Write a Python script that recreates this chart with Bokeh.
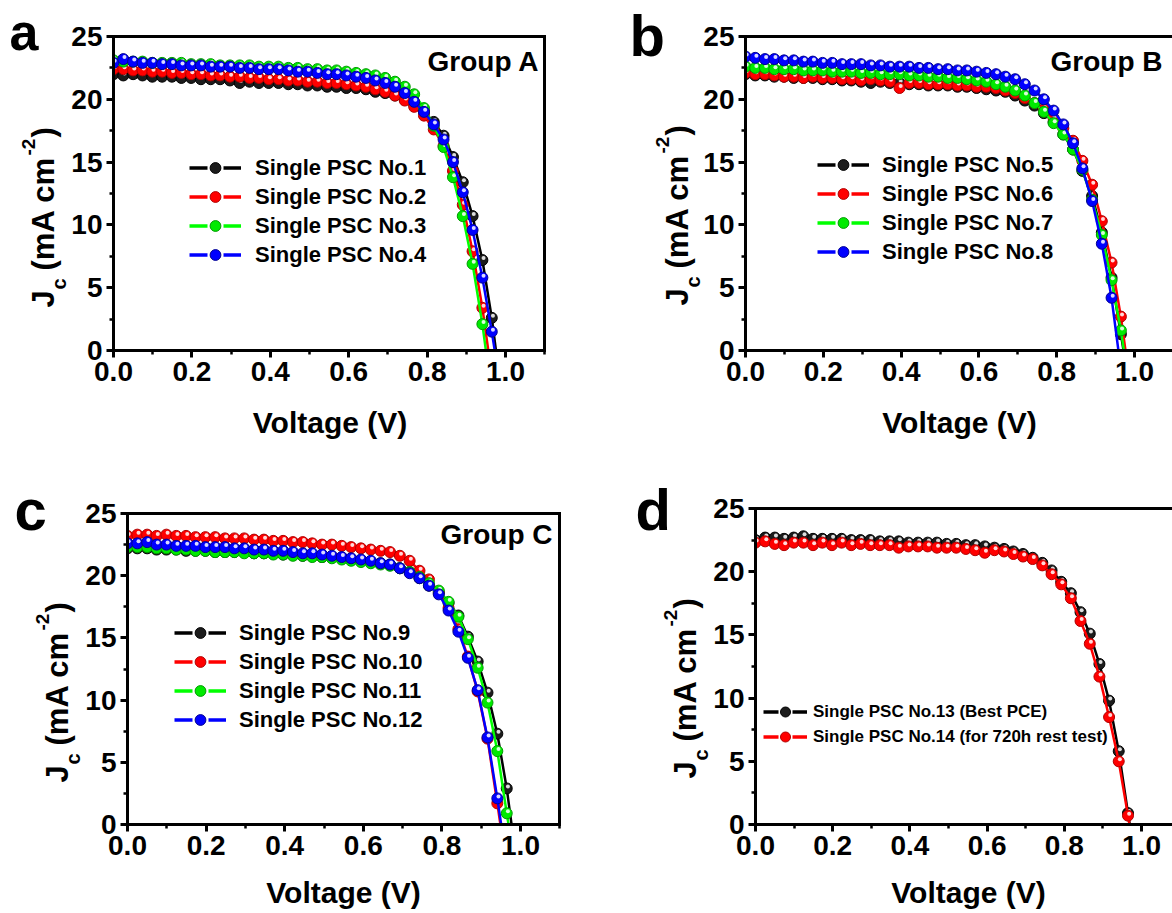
from bokeh.plotting import figure
from bokeh.models import (Label, Legend, LegendItem, LinearAxis, SingleIntervalTicker,
                          PrintfTickFormatter, Range1d, ColumnDataSource, FixedTicker,
                          BoxAnnotation, Grid)
from bokeh.layouts import row, column
from bokeh.transform import dodge
from bokeh.core.properties import value
from bokeh.embed import file_html
from bokeh.resources import INLINE
import math

# ---------------- data ----------------
VOLTAGE = [0.000, 0.025, 0.050, 0.074, 0.099, 0.124, 0.149, 0.173, 0.198, 0.223,
           0.248, 0.272, 0.297, 0.322, 0.347, 0.371, 0.396, 0.421, 0.446, 0.470,
           0.495, 0.520, 0.545, 0.569, 0.594, 0.619, 0.644, 0.668, 0.693, 0.718,
           0.743, 0.767, 0.792, 0.817, 0.842, 0.866, 0.891, 0.916, 0.941, 0.965, 0.990]

X_MAX = 1.1
Y_MAX = 25
X_TICK_STEP = 0.2
Y_TICK_STEP = 5

# Group A
J_NO1 = [22.0, 21.9, 22.0, 21.9, 21.8, 21.8, 21.8, 21.7, 21.7, 21.6,
         21.6, 21.6, 21.5, 21.3, 21.4, 21.3, 21.3, 21.3, 21.2, 21.2,
         21.1, 21.1, 21.0, 21.0, 20.9, 20.9, 20.8, 20.6, 20.5, 20.3,
         20.0, 19.6, 19.0, 18.2, 17.1, 15.4, 13.4, 10.7, 7.2, 2.6, -3.5]
J_NO2 = [22.4, 22.4, 22.3, 22.3, 22.2, 22.2, 22.1, 22.1, 22.0, 22.0,
         21.9, 21.9, 21.8, 21.8, 21.7, 21.7, 21.6, 21.6, 21.5, 21.5,
         21.4, 21.4, 21.3, 21.3, 21.2, 21.1, 21.0, 20.8, 20.6, 20.3,
         19.9, 19.4, 18.7, 17.6, 16.3, 14.3, 11.6, 7.9, 3.4, -2.0]
J_NO3 = [23.1, 23.0, 23.0, 23.0, 22.9, 22.9, 22.9, 22.9, 22.8, 22.8,
         22.8, 22.7, 22.7, 22.7, 22.7, 22.6, 22.6, 22.6, 22.5, 22.5,
         22.4, 22.4, 22.3, 22.3, 22.2, 22.1, 22.0, 21.9, 21.7, 21.4,
         21.0, 20.4, 19.3, 17.9, 16.2, 13.8, 10.7, 6.9, 2.1, -3.5]
J_NO4 = [22.9, 23.2, 23.0, 22.9, 22.9, 22.8, 22.8, 22.7, 22.7, 22.7,
         22.6, 22.6, 22.6, 22.5, 22.5, 22.4, 22.4, 22.4, 22.3, 22.2,
         22.2, 22.1, 22.0, 22.0, 21.9, 21.8, 21.7, 21.5, 21.3, 21.0,
         20.5, 19.8, 19.0, 18.0, 16.8, 15.0, 12.6, 9.6, 5.8, 1.5, -3.5]

# Group B
J_NO5 = [22.0, 21.9, 21.9, 21.8, 21.8, 21.7, 21.7, 21.7, 21.6, 21.6,
         21.5, 21.5, 21.4, 21.3, 21.4, 21.3, 21.3, 21.2, 21.2, 21.1,
         21.1, 21.1, 21.0, 21.0, 20.9, 20.8, 20.7, 20.6, 20.3, 19.9,
         19.5, 18.9, 18.2, 17.2, 16.0, 14.3, 12.3, 9.4, 5.8, 1.3, -3.5]
J_NO6 = [22.1, 22.0, 22.0, 21.9, 21.8, 21.8, 21.7, 21.8, 21.7, 21.7,
         21.6, 21.6, 21.5, 21.6, 21.5, 21.4, 20.9, 21.3, 21.3, 21.2,
         21.2, 21.2, 21.1, 21.1, 21.0, 21.0, 20.9, 20.7, 20.5, 20.1,
         19.7, 19.2, 18.5, 17.7, 16.7, 15.1, 13.2, 10.3, 7.0, 2.7, -3.0]
J_NO7 = [22.6, 22.5, 22.5, 22.4, 22.4, 22.4, 22.3, 22.3, 22.3, 22.2,
         22.2, 22.2, 22.1, 22.1, 22.0, 22.0, 22.0, 21.9, 21.9, 21.8,
         21.8, 21.7, 21.7, 21.6, 21.5, 21.4, 21.2, 21.0, 20.7, 20.3,
         19.7, 19.0, 18.1, 17.2, 16.0, 14.4, 12.0, 9.2, 5.6, 1.6, -3.5]
J_NO8 = [23.4, 23.3, 23.2, 23.2, 23.1, 23.1, 23.0, 23.0, 22.9, 22.9,
         22.8, 22.8, 22.8, 22.7, 22.7, 22.6, 22.6, 22.6, 22.5, 22.5,
         22.4, 22.4, 22.3, 22.3, 22.2, 22.1, 22.0, 21.8, 21.6, 21.2,
         20.7, 20.0, 19.1, 18.0, 16.5, 14.5, 11.9, 8.5, 4.2, -1.5]

# Group C
J_NO9 = [22.2, 22.2, 22.2, 22.1, 22.1, 22.1, 22.0, 22.0, 22.0, 21.9,
         21.9, 21.9, 21.9, 21.8, 21.8, 21.8, 21.7, 21.7, 21.6, 21.6,
         21.5, 21.5, 21.4, 21.3, 21.2, 21.1, 21.0, 20.9, 20.6, 20.3,
         19.8, 19.2, 18.6, 17.8, 16.8, 15.1, 13.1, 10.6, 7.3, 2.9, -3.0]
J_NO10 = [23.2, 23.3, 23.3, 23.2, 23.3, 23.2, 23.2, 23.1, 23.1, 23.1,
          23.0, 23.0, 23.0, 22.9, 22.9, 22.8, 22.8, 22.7, 22.7, 22.6,
          22.5, 22.5, 22.4, 22.3, 22.2, 22.1, 22.0, 21.9, 21.6, 21.2,
          20.4, 19.7, 18.7, 17.4, 15.7, 13.5, 10.7, 6.9, 1.7, -3.5]
J_NO11 = [22.3, 22.3, 22.3, 22.2, 22.2, 22.1, 22.1, 22.0, 22.0, 21.9,
          21.9, 21.9, 21.8, 21.8, 21.8, 21.7, 21.7, 21.6, 21.6, 21.5,
          21.5, 21.4, 21.3, 21.2, 21.1, 21.0, 20.9, 20.8, 20.6, 20.3,
          19.9, 19.4, 18.8, 17.9, 16.7, 14.9, 12.6, 9.8, 5.9, 0.9, -4.0]
J_NO12 = [22.6, 22.6, 22.7, 22.5, 22.5, 22.4, 22.4, 22.4, 22.3, 22.3,
          22.3, 22.2, 22.2, 22.1, 22.1, 22.0, 22.0, 21.9, 21.8, 21.8,
          21.7, 21.6, 21.5, 21.4, 21.3, 21.2, 21.0, 20.9, 20.6, 20.2,
          19.8, 19.2, 18.5, 17.2, 15.5, 13.4, 10.8, 7.0, 2.1, -3.0]

# Panel d
J_NO13 = [22.5, 22.7, 22.7, 22.6, 22.7, 22.8, 22.6, 22.6, 22.6, 22.6,
          22.5, 22.5, 22.5, 22.4, 22.4, 22.4, 22.3, 22.3, 22.3, 22.3,
          22.2, 22.2, 22.1, 22.1, 22.0, 21.9, 21.8, 21.6, 21.4, 21.1,
          20.7, 20.1, 19.2, 18.3, 16.8, 15.1, 12.7, 9.8, 5.8, 0.9, -4.0]
J_NO14 = [22.3, 22.4, 22.2, 22.1, 22.3, 22.3, 22.1, 22.3, 22.1, 22.3,
          22.1, 22.2, 22.1, 22.1, 22.1, 21.9, 22.0, 22.0, 22.0, 21.9,
          21.9, 21.9, 21.8, 21.7, 21.5, 21.7, 21.6, 21.4, 21.2, 21.0,
          20.5, 19.8, 19.0, 17.9, 16.1, 14.3, 11.7, 8.5, 5.0, 0.7, -4.0]

NAMES_A = ["Single PSC No.1", "Single PSC No.2", "Single PSC No.3", "Single PSC No.4"]
NAMES_B = ["Single PSC No.5", "Single PSC No.6", "Single PSC No.7", "Single PSC No.8"]
NAMES_C = ["Single PSC No.9", "Single PSC No.10", "Single PSC No.11", "Single PSC No.12"]
NAMES_D = ["Single PSC No.13 (Best PCE)", "Single PSC No.14 (for 720h rest test)"]

# ---------------- styling / geometry ----------------
FONT = "Liberation Sans"
COLORS = {"k": ("#000000", "#1c1c1c", "#000000"),
          "r": ("#ff0000", "#ff0000", "#b00000"),
          "g": ("#00ff00", "#00ea00", "#009a00"),
          "b": ("#0000ff", "#0000ff", "#000090")}
BASELINE_FIX = 0.4   # label anchor sits this many em above the drawn baseline


def style_axis(ax):
    ax.axis_line_width = 3
    ax.axis_line_color = "black"
    ax.axis_line_cap = "square"
    ax.major_tick_line_width = 3
    ax.minor_tick_line_width = 2.5
    ax.major_tick_line_color = "black"
    ax.minor_tick_line_color = "black"
    ax.major_tick_out = 7
    ax.major_tick_in = 0
    ax.minor_tick_out = 4
    ax.minor_tick_in = 0
    ax.major_label_text_font = FONT
    ax.major_label_text_font_style = "bold"
    ax.major_label_text_font_size = "28px"
    ax.major_label_text_color = "black"
    ax.major_label_standoff = 4


def frame_axis(loc, bounds):
    return LinearAxis(ticker=FixedTicker(ticks=[]), fixed_location=loc, bounds=bounds,
                      axis_line_width=3, axis_line_color="black", axis_line_cap="square",
                      major_tick_out=0, minor_tick_out=0, major_tick_in=0, minor_tick_in=0)


def add_text(p, H, text, cx, cy, size, align="left", rotated=False, font=FONT, style="bold"):
    # cx, cy: canvas pixels (from the panel's top-left) of the text's baseline start
    shift = BASELINE_FIX * size
    if rotated:
        cx, angle = cx - shift, math.pi / 2
    else:
        cy, angle = cy - shift, 0.0
    p.add_layout(Label(x=cx, y=H - cy, x_units="screen", y_units="screen", text=text,
                       text_font=font, text_font_style=style, text_font_size=f"{size}px",
                       text_align=align, text_baseline="alphabetic", angle=angle,
                       text_color="black"))


def make_panel(W, H, X0, Y0, Y1, kx, full_box, series, names, legend_cfg,
               letter, group, group_pos, xlab_pos, ylab_pos):
    ky = (Y1 - Y0) / Y_MAX
    x_start, x_end = -X0 / kx, (W - X0) / kx
    y_start, y_end = -(H - Y1) / ky, Y1 / ky
    p = figure(width=W, height=H, x_range=Range1d(x_start, x_end),
               y_range=Range1d(y_start, y_end), output_backend="svg",
               toolbar_location=None, x_axis_location=None, y_axis_location=None,
               min_border=0, min_border_left=0, min_border_right=0,
               min_border_top=0, min_border_bottom=0,
               background_fill_color="white", border_fill_color="white")
    p.outline_line_color = None
    for r in p.center:
        if isinstance(r, Grid):
            r.visible = False
    x_hi = X_MAX if full_box else x_end

    xax = LinearAxis(fixed_location=0, bounds=(0, x_hi),
                     ticker=SingleIntervalTicker(interval=X_TICK_STEP, num_minor_ticks=2),
                     formatter=PrintfTickFormatter(format="%.1f"))
    yax = LinearAxis(fixed_location=0, bounds=(0, Y_MAX),
                     ticker=SingleIntervalTicker(interval=Y_TICK_STEP, num_minor_ticks=2))
    style_axis(xax)
    style_axis(yax)
    p.add_layout(xax, "below")
    p.add_layout(yax, "left")
    p.add_layout(frame_axis(Y_MAX, (0, x_hi)), "above")
    if full_box:
        p.add_layout(frame_axis(X_MAX, (0, Y_MAX)), "right")

    items = []
    gw, gh, sp, st, fs, dash, lx, lbot = legend_cfg
    nan = float("nan")
    for (jvals, ckey), name in zip(series, names):
        line_c, fill_c, edge_c = COLORS[ckey]
        src = ColumnDataSource(data=dict(v=VOLTAGE[:len(jvals)], j=jvals))
        p.line("v", "j", source=src, line_color=line_c, line_width=2.5)
        mk = p.scatter("v", "j", source=src, size=11, marker="circle", fill_color=fill_c,
                       line_color=edge_c, line_width=1)
        p.scatter(x=dodge("v", 0.003), y=dodge("j", 0.16), source=src, size=4,
                  marker="circle", fill_color="white", fill_alpha=0.85, line_color=None)
        leg_line = p.line(x=[nan], y=[nan], line_color=line_c, line_width=3.5, line_dash=dash)
        items.append(LegendItem(label=value(name), renderers=[leg_line, mk]))

    # white masks so curves stop at the axes (drawn above glyphs, below axes/labels)
    mask_low = BoxAnnotation(top=0, fill_color="white", fill_alpha=1.0, line_color=None,
                             level="glyph")
    mask_left = BoxAnnotation(right=0, fill_color="white", fill_alpha=1.0, line_color=None,
                              level="glyph")
    p.renderers = list(p.renderers) + [mask_low, mask_left]

    leg = Legend(items=items, location=(lx, H - lbot), glyph_width=gw, glyph_height=gh,
                 label_height=gh, spacing=sp, padding=0, margin=0, label_standoff=st,
                 label_text_font=FONT, label_text_font_style="bold", label_text_font_size=fs,
                 label_text_color="black", background_fill_alpha=0, border_line_alpha=0)
    p.add_layout(leg)

    lt, ltx, lty, lsize = letter
    add_text(p, H, lt, ltx, lty, lsize)
    if group:
        add_text(p, H, group, group_pos[0], group_pos[1], 28, align=group_pos[2])
    add_text(p, H, "Voltage (V)", xlab_pos[0], xlab_pos[1], 30, align="center")

    bx, by = ylab_pos   # baseline x of the main text, canvas y where "J" starts
    add_text(p, H, "J", bx, by, 31, rotated=True)
    add_text(p, H, "c", bx + 11, by - 18, 20, rotated=True)
    add_text(p, H, "(mA cm", bx, by - 37, 31, rotated=True)
    add_text(p, H, "-2", bx - 19, by - 152, 19, rotated=True)
    add_text(p, H, ")", bx, by - 170, 31, rotated=True)
    return p


pa = make_panel(580, 460, 113, 36, 350, 392.0, True,
                [(J_NO1, "k"), (J_NO2, "r"), (J_NO3, "g"), (J_NO4, "b")], NAMES_A,
                (52, 27, 2, 14, "22px", "18 16", 189, 268),
                ("a", 9, 52, 52), "Group A", (539, 72, "right"), (329.5, 434), (55, 307))
pb = make_panel(592, 460, 165, 36, 350, 389.0, False,
                [(J_NO5, "k"), (J_NO6, "r"), (J_NO7, "g"), (J_NO8, "b")], NAMES_B,
                (52, 27, 2, 13, "22px", "18 16", 237, 265),
                ("b", 49, 58, 58), "Group B", (470, 72, "left"), (379, 434), (109, 305))
pc = make_panel(580, 453, 127, 53, 364, 393.0, True,
                [(J_NO9, "k"), (J_NO10, "r"), (J_NO11, "g"), (J_NO12, "b")], NAMES_C,
                (52, 27, 2, 13, "22px", "18 16", 174, 273),
                ("c", 14, 72, 58), "Group C", (552, 85, "right"), (343, 444), (69, 322))
pd_ = make_panel(592, 453, 175, 48, 364, 386.0, False,
                 [(J_NO13, "k"), (J_NO14, "r")], NAMES_D,
                 (44, 25, 0, 6, "17px", "15 14", 183, 289),
                 ("d", 55, 72, 58), None, None, (388, 444), (117, 318))

layout = column(row(pa, pb), row(pc, pd_))
open("out.html", "w").write(file_html(layout, INLINE, title="J-V curves"))
